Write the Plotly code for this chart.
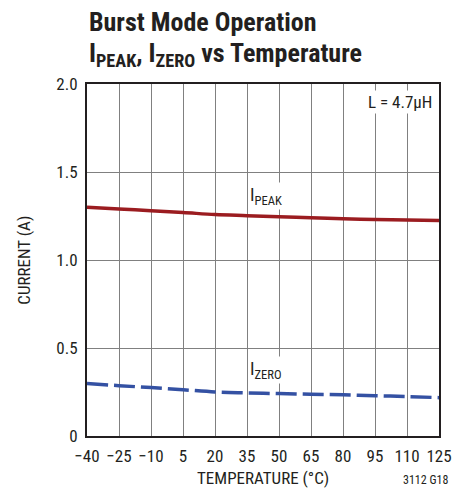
import plotly.graph_objects as go

temp = [-40, -25, -10, 5, 20, 35, 50, 65, 80, 95, 110, 125]
i_peak = [1.300, 1.290, 1.280, 1.270, 1.258, 1.252, 1.246, 1.240, 1.235, 1.230, 1.227, 1.224]
i_zero = [0.298, 0.286, 0.275, 0.263, 0.250, 0.245, 0.241, 0.237, 0.234, 0.229, 0.224, 0.218]
x_ticks = [-40, -25, -10, 5, 20, 35, 50, 65, 80, 95, 110, 125]
x_labels = ["\u221240", "\u221225", "\u221210", "5", "20", "35", "50", "65", "80", "95", "110", "125"]
y_ticks = [0, 0.5, 1.0, 1.5, 2.0]
y_labels = ["0", "0.5", "1.0", "1.5", "2.0"]

FONT = "Liberation Sans Narrow, Roboto Condensed, Arial Narrow, sans-serif"

fig = go.Figure()
fig.add_trace(go.Scatter(x=temp, y=i_peak, mode="lines",
                         line=dict(color="#9b1c20", width=3.5, shape="spline")))
fig.add_trace(go.Scatter(x=temp, y=i_zero, mode="lines",
                         line=dict(color="#3451a3", width=3.5, dash="21px,6px", shape="spline")))

# page has an 8px body margin, so the figure is sized to the visible area
fig.update_layout(
    width=460, height=481,
    margin=dict(l=79, r=29, t=76, b=53),
    plot_bgcolor="white", paper_bgcolor="white",
    showlegend=False,
    font=dict(family=FONT, size=17, color="#231f20"),
)
fig.update_xaxes(range=[-40, 125], tickvals=x_ticks, ticktext=x_labels,
                 showgrid=True, gridcolor="#808080", gridwidth=1,
                 showline=True, linecolor="#231f20", linewidth=2, mirror=True,
                 ticks="", zeroline=False, ticklabelstandoff=4, automargin=False)
fig.update_yaxes(range=[0, 2], tickvals=y_ticks, ticktext=y_labels,
                 showgrid=True, gridcolor="#808080", gridwidth=1,
                 showline=True, linecolor="#231f20", linewidth=2, mirror=True,
                 ticks="", zeroline=False, ticklabelstandoff=4, automargin=False)

# axis titles
fig.add_annotation(x=0.5, y=-0.119, xref="paper", yref="paper", xanchor="center", yanchor="middle",
                   text="TEMPERATURE (\u00b0C)", showarrow=False, font=dict(size=17))
fig.add_annotation(x=-0.18, y=0.5, xref="paper", yref="paper", xanchor="center", yanchor="middle",
                   text="CURRENT (A)", textangle=-90, showarrow=False, font=dict(size=17))

# two-line title
fig.add_annotation(x=0, y=1.177, xref="paper", yref="paper", xanchor="left", yanchor="middle",
                   text="<b>Burst Mode Operation</b>", showarrow=False,
                   font=dict(size=26, color="#231f20"))
fig.add_annotation(x=0, y=1.083, xref="paper", yref="paper", xanchor="left", yanchor="middle",
                   text="<b>I<sub>PEAK</sub>, I<sub>ZERO</sub> vs Temperature</b>", showarrow=False,
                   font=dict(size=26, color="#231f20"))

fig.add_annotation(x=1, y=1, xref="paper", yref="paper", xanchor="right", yanchor="top",
                   xshift=-5, yshift=-6, text="L = 4.7\u00b5H", showarrow=False,
                   bgcolor="white", font=dict(size=17))
fig.add_annotation(x=44, y=1.365, text="I<sub>PEAK</sub>", showarrow=False,
                   bgcolor="white", font=dict(size=18))
fig.add_annotation(x=44, y=0.375, text="I<sub>ZERO</sub>", showarrow=False,
                   bgcolor="white", font=dict(size=18))
fig.add_annotation(x=1.031, y=-0.124, xref="paper", yref="paper", xanchor="right", yanchor="middle",
                   text="3112 G18", showarrow=False, font=dict(size=12))

fig.write_html("out.html")
